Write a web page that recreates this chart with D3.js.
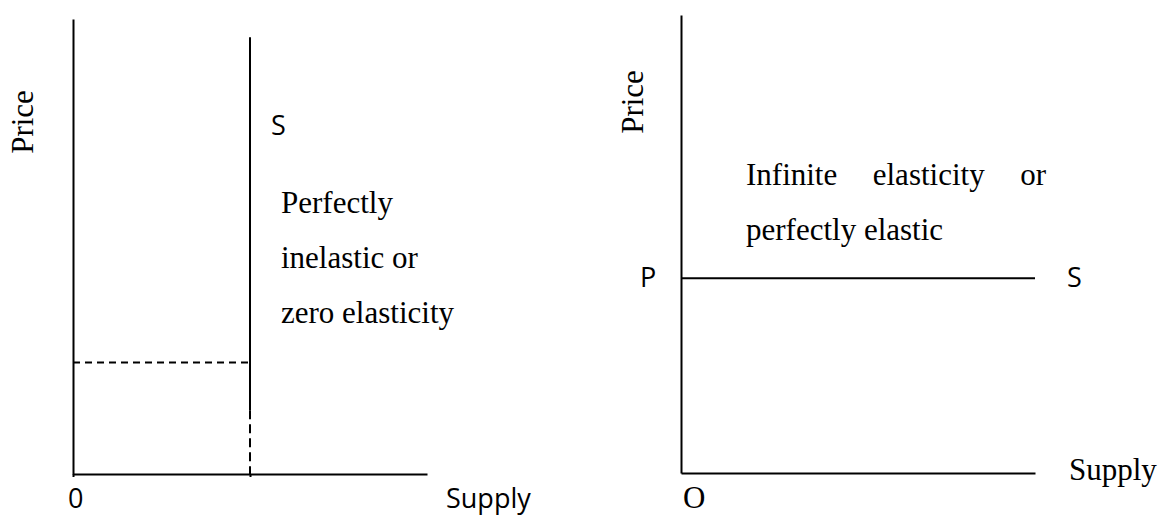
<!DOCTYPE html>
<html>
<head>
<meta charset="utf-8">
<script src="https://cdn.jsdelivr.net/npm/d3@7"></script>
<style>
  body { margin: 0; background: #fff; }
  .serif { font-family: "Liberation Serif", "Times New Roman", serif; font-size: 31px; fill: #000; }
  .sans { font-family: "Open Sans", "Noto Sans", sans-serif; font-size: 27px; fill: #000; }
  .axis path, .axis line { stroke: #000; stroke-width: 2; }
</style>
</head>
<body>
<svg id="chart"></svg>
<script>
// panel 1: perfectly inelastic supply (quantity fixed)
const inelasticQty = 5;          // where S stands on the quantity axis
const inelasticTop = 9.6;        // top of S line (price units)
const inelasticSolidEnd = 1.4;   // S turns dashed below this price
const inelasticPrice = 2.45;     // dashed guide price
const inelasticText = ["Perfectly", "inelastic or", "zero elasticity"];

// panel 2: perfectly elastic supply (price fixed)
const elasticPrice = 4.25;
const elasticText = [["Infinite", "elasticity", "or"], ["perfectly elastic"]];

const width = 1160, height = 516;
const svg = d3.select("#chart").attr("width", width).attr("height", height);

// ---- left panel ----
const x1 = d3.scaleLinear().domain([0, 10]).range([73, 427]);
const y1 = d3.scaleLinear().domain([0, 10]).range([474, 19]);

svg.append("g").attr("class", "axis")
  .attr("transform", `translate(0, ${y1(0)})`)
  .call(d3.axisBottom(x1).tickValues([0, inelasticQty]).tickFormat("").tickSizeInner(3).tickSizeOuter(0));

svg.append("g").attr("class", "axis")
  .attr("transform", `translate(${x1(0)}, 0)`)
  .call(d3.axisLeft(y1).tickValues([]).tickSizeOuter(0));

// S solid
svg.append("line")
  .attr("x1", x1(inelasticQty)).attr("x2", x1(inelasticQty))
  .attr("y1", y1(inelasticTop)).attr("y2", y1(inelasticSolidEnd))
  .attr("stroke", "#000").attr("stroke-width", 2);

// S dashed part down to the axis
svg.append("line")
  .attr("x1", x1(inelasticQty)).attr("x2", x1(inelasticQty))
  .attr("y1", y1(inelasticSolidEnd)).attr("y2", y1(0))
  .attr("stroke", "#000").attr("stroke-width", 2)
  .attr("stroke-dasharray", "9,5");

// dashed price guide
svg.append("line")
  .attr("x1", x1(0)).attr("x2", x1(inelasticQty))
  .attr("y1", y1(inelasticPrice)).attr("y2", y1(inelasticPrice))
  .attr("stroke", "#000").attr("stroke-width", 2)
  .attr("stroke-dasharray", "7,5");

svg.append("text").attr("class", "serif")
  .attr("text-anchor", "middle")
  .attr("transform", `translate(33, 122) rotate(-90)`)
  .text("Price");

svg.append("text").attr("class", "sans")
  .attr("x", x1(inelasticQty) + 21).attr("y", 135)
  .text("S");

svg.append("text").attr("class", "sans")
  .attr("x", x1(0) - 5).attr("y", 508)
  .text("0");

svg.append("text").attr("class", "sans")
  .attr("x", 446).attr("y", 508)
  .text("Supply");

svg.selectAll(".inel")
  .data(inelasticText)
  .join("text")
  .attr("class", "serif inel")
  .attr("x", 281)
  .attr("y", (d, i) => 213 + i * 55)
  .text(d => d);

// ---- right panel ----
const x2 = d3.scaleLinear().domain([0, 10]).range([681, 1035]);
const y2 = d3.scaleLinear().domain([0, 10]).range([473, 15]);

svg.append("g").attr("class", "axis")
  .attr("transform", `translate(0, ${y2(0)})`)
  .call(d3.axisBottom(x2).tickValues([]).tickSizeOuter(0));

svg.append("g").attr("class", "axis")
  .attr("transform", `translate(${x2(0)}, 0)`)
  .call(d3.axisLeft(y2).tickValues([]).tickSizeOuter(0));

svg.append("line")
  .attr("x1", x2(0)).attr("x2", x2(10))
  .attr("y1", y2(elasticPrice)).attr("y2", y2(elasticPrice))
  .attr("stroke", "#000").attr("stroke-width", 2);

svg.append("text").attr("class", "serif")
  .attr("text-anchor", "middle")
  .attr("transform", `translate(643, 102) rotate(-90)`)
  .text("Price");

svg.append("text").attr("class", "sans")
  .attr("x", 640).attr("y", y2(elasticPrice) + 9)
  .text("P");

svg.append("text").attr("class", "sans")
  .attr("x", 1067).attr("y", y2(elasticPrice) + 9)
  .text("S");

svg.append("text").attr("class", "serif")
  .attr("x", 683).attr("y", 508)
  .text("O");

svg.append("text").attr("class", "serif")
  .attr("x", 1069).attr("y", 480)
  .text("Supply");

// justified first line: spread words between left and right edges
const textLeft = 746, textRight = 1046;
elasticText.forEach((words, li) => {
  const yy = 185 + li * 55;
  const nodes = words.map(w => svg.append("text").attr("class", "serif").attr("y", yy).text(w));
  if (words.length === 1) {
    nodes[0].attr("x", textLeft);
    return;
  }
  const lens = nodes.map(n => n.node().getComputedTextLength());
  const gap = (textRight - textLeft - d3.sum(lens)) / (words.length - 1);
  let cx = textLeft;
  nodes.forEach((n, i) => {
    n.attr("x", cx);
    cx += lens[i] + gap;
  });
});
</script>
</body>
</html>
